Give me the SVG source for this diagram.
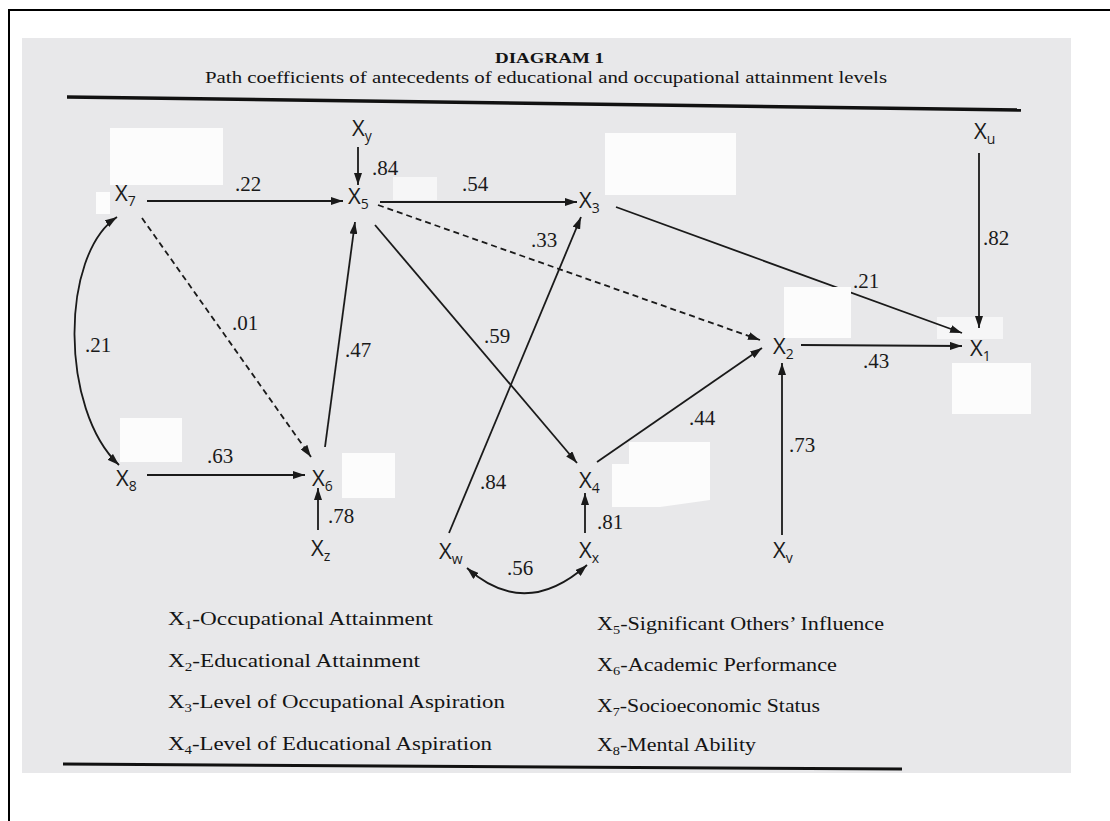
<svg xmlns="http://www.w3.org/2000/svg" width="1110" height="821" viewBox="0 0 1110 821">
<defs>
<style>
.nx{font-family:"Open Sans","Liberation Sans",sans-serif;font-size:22px;fill:#1a1a1a}
.sb{font-size:14px}
.num{font-family:"Liberation Serif",serif;font-size:21px;fill:#1a1a1a}
.leg{font-family:"Liberation Serif",serif;font-size:18.5px;fill:#141414}
.ttl{font-family:"Liberation Serif",serif;fill:#141414}
.e{stroke:#1a1a1a;stroke-width:1.8;fill:none}
.d{stroke-dasharray:6 4}
.patch{fill:#fcfcfc}
.rule{stroke:#111;fill:none}
</style>
<marker id="ah" viewBox="0 0 12 8" refX="12" refY="4" markerWidth="12" markerHeight="8" markerUnits="userSpaceOnUse" orient="auto-start-reverse"><path d="M0,0 L12,4 L0,8 z" fill="#1a1a1a"/></marker>
</defs>

<rect x="0" y="0" width="1110" height="821" fill="#ffffff"/>
<path d="M9,830 L9,10 L1120,10" stroke="#000" stroke-width="2" fill="none"/>
<rect x="22" y="38" width="1049" height="735" fill="#e8e8ea"/>
<rect x="937" y="317" width="66" height="22" fill="#f6f6f7"/>
<rect x="393" y="177" width="44" height="23" fill="#f6f6f7"/>

<!-- title -->
<g id="title">
<text class="ttl" x="495" y="63" font-size="14" font-weight="bold" textLength="109" lengthAdjust="spacingAndGlyphs">DIAGRAM 1</text>
<text class="ttl" x="205" y="83" font-size="16" textLength="682" lengthAdjust="spacingAndGlyphs">Path coefficients of antecedents of educational and occupational attainment levels</text>
<path class="rule" d="M67,97 L1021,110" stroke-width="3.5"/>
</g>

<!-- connectors -->
<g id="connectors" marker-end="url(#ah)">
<line class="e" x1="147" y1="201" x2="343" y2="201"/>
<line class="e" x1="358" y1="147" x2="358" y2="185"/>
<line class="e" x1="380" y1="202" x2="577" y2="202"/>
<line class="e" x1="325" y1="447" x2="355" y2="222"/>
<line class="e d" x1="142" y1="218" x2="311" y2="457"/>
<line class="e" x1="147" y1="475" x2="305" y2="475"/>
<line class="e" x1="318" y1="530" x2="318" y2="488"/>
<line class="e" x1="375" y1="225" x2="577" y2="463"/>
<line class="e" x1="449" y1="533" x2="581" y2="217"/>
<line class="e d" x1="378" y1="205" x2="760" y2="340"/>
<line class="e" x1="597" y1="462" x2="762" y2="348"/>
<line class="e" x1="585" y1="533" x2="585" y2="493"/>
<line class="e" x1="782" y1="535" x2="782" y2="363"/>
<line class="e" x1="616" y1="207" x2="962" y2="333"/>
<line class="e" x1="801" y1="345" x2="962" y2="346"/>
<line class="e" x1="979" y1="153" x2="979" y2="328"/>
<path class="e" d="M117,217 C60,255 60,410 119,465" marker-start="url(#ah)"/>
<path class="e" d="M467,568 Q525,620 587,565" marker-start="url(#ah)"/>
</g>

<!-- white patches of the scan -->
<g id="patches">
<rect class="patch" x="110" y="128" width="113" height="57"/>
<rect class="patch" x="96" y="192" width="14" height="22"/>
<rect class="patch" x="605" y="133" width="131" height="62"/>
<rect class="patch" x="784" y="287" width="67" height="51"/>
<rect class="patch" x="952" y="363" width="79" height="51"/>
<polygon class="patch" points="629,442 710,442 710,500 660,507 612,507 612,464 629,464"/>
<rect class="patch" x="120" y="418" width="62" height="44"/>
<rect class="patch" x="342" y="453" width="53" height="45"/>
</g>

<!-- nodes -->
<g id="node-X7"><text class="nx" x="115" y="201">X<tspan class="sb" dy="5">7</tspan></text></g>
<g id="node-X5"><text class="nx" x="348" y="204">X<tspan class="sb" dy="5">5</tspan></text></g>
<g id="node-Xy"><text class="nx" x="352" y="136">X<tspan class="sb" dy="5">y</tspan></text></g>
<g id="node-X3"><text class="nx" x="579" y="208">X<tspan class="sb" dy="5">3</tspan></text></g>
<g id="node-Xu"><text class="nx" x="974" y="139">X<tspan class="sb" dy="5">u</tspan></text></g>
<g id="node-X1"><text class="nx" x="970" y="356">X<tspan class="sb" dy="5">1</tspan></text></g>
<g id="node-X2"><text class="nx" x="773" y="354">X<tspan class="sb" dy="5">2</tspan></text></g>
<g id="node-X4"><text class="nx" x="579" y="488">X<tspan class="sb" dy="5">4</tspan></text></g>
<g id="node-Xx"><text class="nx" x="579" y="558">X<tspan class="sb" dy="5">x</tspan></text></g>
<g id="node-Xv"><text class="nx" x="773" y="558">X<tspan class="sb" dy="5">v</tspan></text></g>
<g id="node-Xw"><text class="nx" x="439" y="559">X<tspan class="sb" dy="5">w</tspan></text></g>
<g id="node-X6"><text class="nx" x="312" y="486">X<tspan class="sb" dy="5">6</tspan></text></g>
<g id="node-Xz"><text class="nx" x="311" y="556">X<tspan class="sb" dy="5">z</tspan></text></g>
<g id="node-X8"><text class="nx" x="116" y="486">X<tspan class="sb" dy="5">8</tspan></text></g>

<!-- coefficients -->
<g id="labels">
<text class="num" x="235" y="191">.22</text>
<text class="num" x="372" y="175">.84</text>
<text class="num" x="462" y="191">.54</text>
<text class="num" x="531" y="247">.33</text>
<text class="num" x="983" y="245">.82</text>
<text class="num" x="853" y="288">.21</text>
<text class="num" x="863" y="368">.43</text>
<text class="num" x="689" y="425">.44</text>
<text class="num" x="789" y="452">.73</text>
<text class="num" x="597" y="529">.81</text>
<text class="num" x="507" y="575">.56</text>
<text class="num" x="480" y="489">.84</text>
<text class="num" x="484" y="343">.59</text>
<text class="num" x="345" y="357">.47</text>
<text class="num" x="232" y="330">.01</text>
<text class="num" x="85" y="352">.21</text>
<text class="num" x="207" y="463">.63</text>
<text class="num" x="328" y="523">.78</text>
</g>

<!-- legend -->
<g id="legend">
<text class="leg" x="168" y="625" textLength="265" lengthAdjust="spacingAndGlyphs">X<tspan font-size="12" dy="4">1</tspan><tspan dy="-4">-Occupational Attainment</tspan></text>
<text class="leg" x="168" y="667" textLength="252" lengthAdjust="spacingAndGlyphs">X<tspan font-size="12" dy="4">2</tspan><tspan dy="-4">-Educational Attainment</tspan></text>
<text class="leg" x="168" y="708" textLength="337" lengthAdjust="spacingAndGlyphs">X<tspan font-size="12" dy="4">3</tspan><tspan dy="-4">-Level of Occupational Aspiration</tspan></text>
<text class="leg" x="168" y="750" textLength="324" lengthAdjust="spacingAndGlyphs">X<tspan font-size="12" dy="4">4</tspan><tspan dy="-4">-Level of Educational Aspiration</tspan></text>
<text class="leg" x="597" y="630" textLength="287" lengthAdjust="spacingAndGlyphs">X<tspan font-size="12" dy="4">5</tspan><tspan dy="-4">-Significant Others’ Influence</tspan></text>
<text class="leg" x="597" y="671" textLength="240" lengthAdjust="spacingAndGlyphs">X<tspan font-size="12" dy="4">6</tspan><tspan dy="-4">-Academic Performance</tspan></text>
<text class="leg" x="597" y="712" textLength="223" lengthAdjust="spacingAndGlyphs">X<tspan font-size="12" dy="4">7</tspan><tspan dy="-4">-Socioeconomic Status</tspan></text>
<text class="leg" x="597" y="751" textLength="159" lengthAdjust="spacingAndGlyphs">X<tspan font-size="12" dy="4">8</tspan><tspan dy="-4">-Mental Ability</tspan></text>
<path class="rule" d="M63,764 L902,769" stroke-width="3"/>
</g>
</svg>
